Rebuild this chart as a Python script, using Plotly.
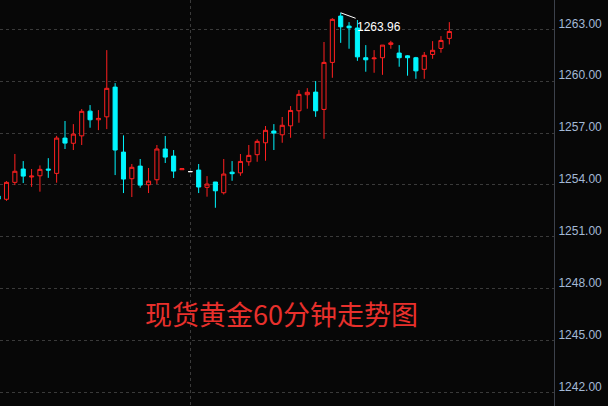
import plotly.graph_objects as go

# 60-minute candles (index order, oldest first)
opens = [1253.36, 1253.17, 1254.15, 1254.92, 1254.46, 1254.53, 1254.92, 1254.67, 1256.71, 1256.41,
         1256.84, 1258.27, 1257.77, 1257.94, 1259.66, 1255.90, 1254.36, 1255.09, 1254.01, 1254.30,
         1256.08, 1255.67, 1254.88, 1254.77, 1254.86, 1253.86, 1254.17, 1253.55, 1254.74, 1254.70,
         1255.34, 1255.75, 1256.44, 1257.12, 1256.90, 1257.42, 1258.29, 1259.22, 1259.37, 1258.37,
         1261.09, 1263.77, 1263.19, 1263.08, 1261.36, 1261.30, 1261.36, 1262.13, 1261.63, 1261.47,
         1261.36, 1260.69, 1261.55, 1261.90, 1262.48]
highs = [1253.45, 1254.22, 1255.79, 1255.38, 1254.92, 1255.13, 1255.55, 1256.84, 1257.70, 1257.52,
         1258.39, 1258.62, 1258.33, 1261.80, 1259.89, 1256.87, 1255.21, 1255.50, 1254.98, 1256.31,
         1256.83, 1256.02, 1254.94, 1254.77, 1255.21, 1254.51, 1254.17, 1255.50, 1255.38, 1255.79,
         1256.31, 1256.64, 1257.41, 1257.52, 1257.93, 1258.56, 1259.49, 1259.60, 1260.01, 1262.27,
         1263.65, 1263.96, 1263.42, 1263.54, 1262.09, 1261.80, 1262.09, 1262.34, 1262.09, 1261.51,
         1261.41, 1261.69, 1262.32, 1262.61, 1263.42]
lows = [1253.00, 1253.08, 1253.99, 1254.11, 1253.89, 1253.61, 1254.41, 1254.13, 1256.08, 1256.02,
        1256.31, 1257.31, 1257.17, 1257.23, 1254.57, 1253.53, 1253.30, 1253.84, 1253.53, 1254.05,
        1255.27, 1254.40, 1254.88, 1254.77, 1253.53, 1253.32, 1252.68, 1253.45, 1254.24, 1254.53,
        1255.11, 1255.34, 1255.40, 1256.02, 1256.44, 1256.73, 1257.60, 1258.41, 1257.94, 1256.67,
        1260.20, 1262.22, 1261.88, 1261.18, 1260.55, 1260.49, 1260.37, 1261.88, 1260.84, 1260.32,
        1260.14, 1260.14, 1261.30, 1261.65, 1262.13]
closes = [1253.18, 1254.15, 1254.79, 1254.51, 1254.51, 1254.90, 1254.86, 1256.71, 1256.42, 1256.94,
          1258.26, 1257.77, 1257.85, 1259.59, 1256.02, 1254.34, 1255.02, 1253.99, 1254.22, 1256.08,
          1255.61, 1254.80, 1254.94, 1254.77, 1253.88, 1254.05, 1253.66, 1254.63, 1254.65, 1255.36,
          1255.71, 1256.52, 1257.16, 1257.00, 1257.45, 1258.31, 1259.24, 1259.36, 1258.29, 1261.09,
          1263.58, 1263.15, 1263.09, 1261.41, 1261.24, 1261.34, 1262.09, 1262.22, 1261.36, 1261.36,
          1260.60, 1261.50, 1261.79, 1262.36, 1262.88]

session_break = [23]
y_ticks = [1242, 1245, 1248, 1251, 1254, 1257, 1260, 1263]
title_text = "现货黄金60分钟走势图"

BG = "#070707"
RED = "#ff2020"
CYAN = "#00f6ff"

idx = list(range(len(opens)))


def subset(cond):
    sel = [i for i in idx if cond(opens[i], closes[i])]
    return dict(x=sel,
                open=[opens[i] for i in sel], high=[highs[i] for i in sel],
                low=[lows[i] for i in sel], close=[closes[i] for i in sel])


fig = go.Figure()
fig.add_trace(go.Candlestick(
    **subset(lambda o, c: c > o),
    increasing=dict(line=dict(color=RED, width=1), fillcolor=BG),
    decreasing=dict(line=dict(color=RED, width=1), fillcolor=BG),
    hoverinfo="skip", showlegend=False))
fig.add_trace(go.Candlestick(
    **subset(lambda o, c: c < o),
    increasing=dict(line=dict(color=CYAN, width=1), fillcolor=CYAN),
    decreasing=dict(line=dict(color=CYAN, width=1), fillcolor=CYAN),
    hoverinfo="skip", showlegend=False))
fig.add_trace(go.Candlestick(
    **subset(lambda o, c: c == o),
    increasing=dict(line=dict(color="#ffffff", width=1), fillcolor="#ffffff"),
    decreasing=dict(line=dict(color="#ffffff", width=1), fillcolor="#ffffff"),
    hoverinfo="skip", showlegend=False))

# highest-high marker
hi_i = max(idx, key=lambda i: highs[i])
fig.add_annotation(x=hi_i, y=highs[hi_i], text=f"{highs[hi_i]:.2f}",
                   showarrow=True, arrowhead=0, arrowwidth=1, arrowcolor="#ffffff",
                   ax=38, ay=14,
                   font=dict(family="Liberation Sans, Arial", size=12, color="#ffffff"))

fig.add_annotation(xref="paper", yref="paper", x=0.508, y=0.229,
                   xanchor="center", yanchor="middle",
                   text=title_text, showarrow=False,
                   font=dict(family="Noto Sans CJK SC", size=27, color="#e8302c"))

fig.update_layout(
    width=608, height=406,
    margin=dict(l=0, r=54, t=0, b=0),
    paper_bgcolor=BG, plot_bgcolor=BG,
    boxgap=0.3,
    showlegend=False,
    xaxis=dict(range=[0.22, 66.53], rangeslider=dict(visible=False),
               tickvals=session_break, showticklabels=False, ticks="",
               showgrid=True, gridcolor="#3a3a3a", griddash="dot", gridwidth=1,
               zeroline=False, showline=False),
    yaxis=dict(side="right", range=[1241.21, 1264.70],
               tickvals=y_ticks, tickformat=".2f", ticks="",
               showgrid=True, gridcolor="#3a3a3a", griddash="dot", gridwidth=1,
               zeroline=False, showline=True, linecolor="#3c414b", linewidth=1,
               ticklabelshift=-6, ticklabelstandoff=1,
               tickfont=dict(family="Liberation Sans, Arial", size=12, color="#a3b9d6")),
)

fig.write_html("out.html",
               config={"displayModeBar": False, "staticPlot": True},
               post_script="document.body.style.margin='0';document.body.style.overflow='hidden';document.body.style.background='" + BG + "';")
